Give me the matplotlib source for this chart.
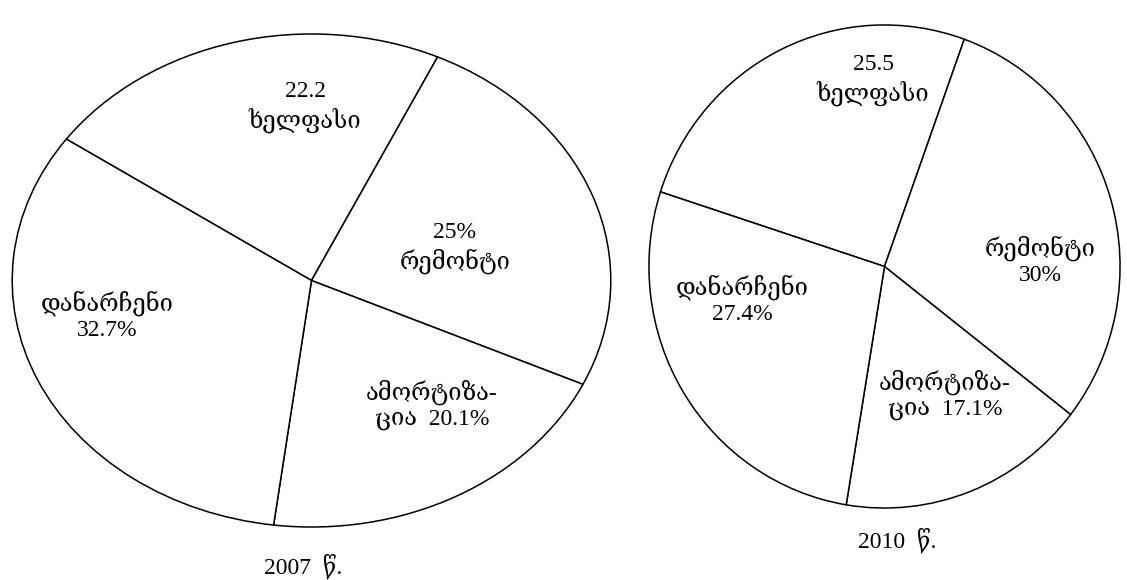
import matplotlib.pyplot as plt

plt.rcParams['font.family'] = ['Liberation Serif', 'DejaVu Serif']

# 2007 shares (%)
labels_2007 = ["ხელფასი", "რემონტი", "ამორტიზაცია", "დანარჩენი"]
values_2007 = [22.2, 25.0, 20.1, 32.7]
texts_2007 = ["22.2\nხელფასი", "25%\nრემონტი", "ამორტიზა-\nცია  20.1%", "დანარჩენი\n32.7%"]

# 2010 shares (%)
labels_2010 = ["ხელფასი", "რემონტი", "ამორტიზაცია", "დანარჩენი"]
values_2010 = [25.5, 30.0, 17.1, 27.4]
texts_2010 = ["25.5\nხელფასი", "რემონტი\n30%", "ამორტიზა-\nცია  17.1%", "დანარჩენი\n27.4%"]

years = ["2007  წ.", "2010  წ."]

W, H = 1127, 580
fig = plt.figure(figsize=(W / 100, H / 100), dpi=100)


def px_axes(x0, y0, x1, y1):
    # pixel box (top-left origin) -> figure axes
    return fig.add_axes([x0 / W, 1 - y1 / H, (x1 - x0) / W, (y1 - y0) / H])


def px_text(x, y, s):
    fig.text(x / W, 1 - y / H, s, ha="center", va="center",
             fontsize=17, linespacing=1.25)


def draw_pie(ax, values, start):
    ax.pie(values, startangle=start, counterclock=False,
           colors=["white"] * len(values),
           wedgeprops=dict(edgecolor="black", linewidth=1.1))
    ax.set_aspect("auto")
    ax.set_xlim(-1.004, 1.004)
    ax.set_ylim(-1.004, 1.004)


ax1 = px_axes(11, 33, 612, 528)
draw_pie(ax1, values_2007, 145)
for t, (x, y) in zip(texts_2007, [(305, 107), (455, 248), (432, 405), (107, 316)]):
    px_text(x, y, t)
px_text(303, 566, years[0])

ax2 = px_axes(648, 24, 1121, 509)
draw_pie(ax2, values_2010, 162)
for t, (x, y) in zip(texts_2010, [(873, 80), (1040, 261), (945, 395), (742, 300)]):
    px_text(x, y, t)
px_text(897, 540, years[1])

fig.savefig("out.png", dpi=100)
